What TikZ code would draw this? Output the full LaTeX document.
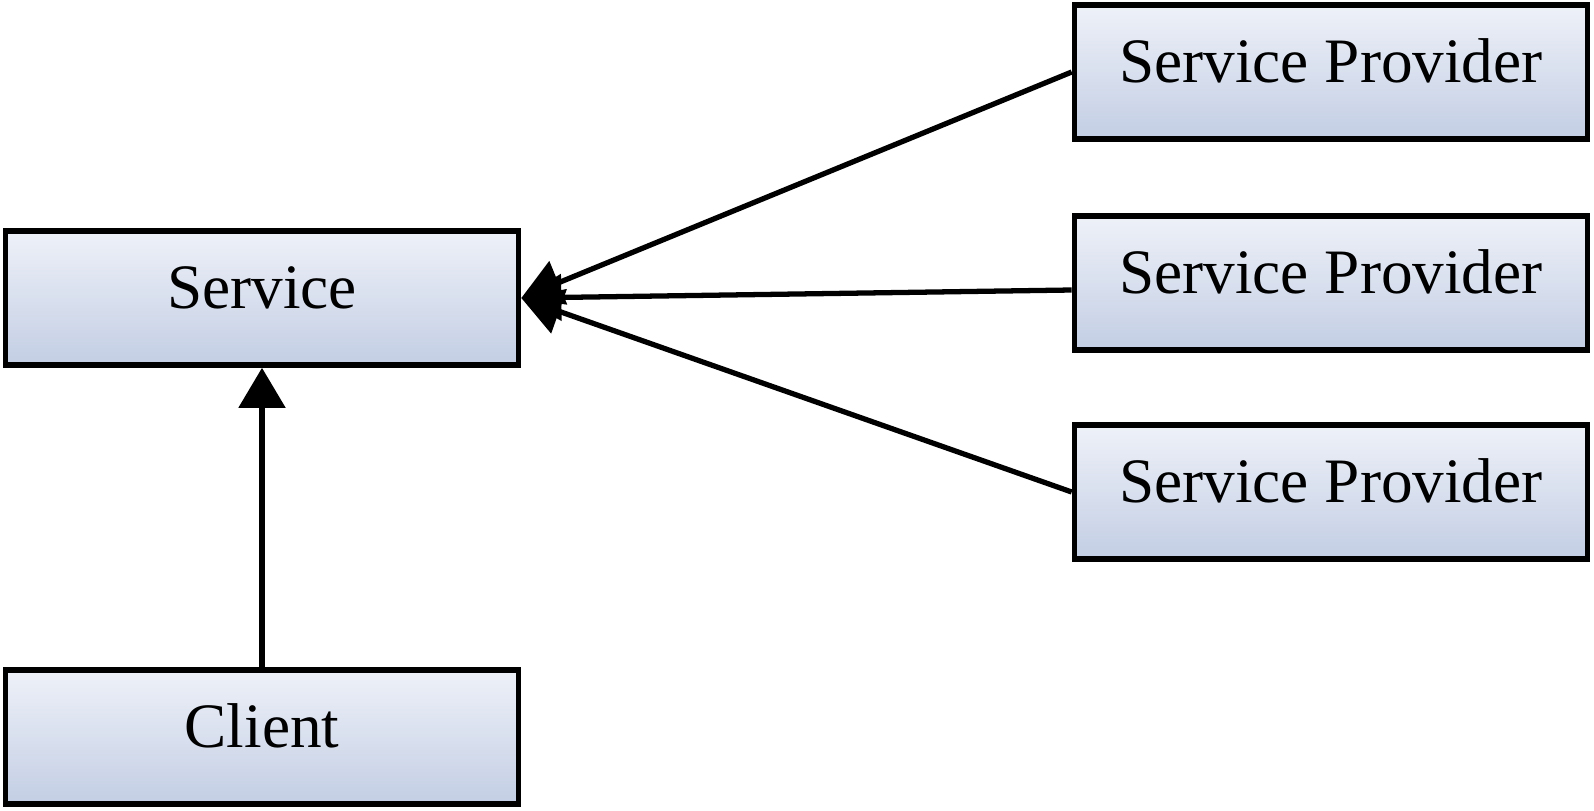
\documentclass[tikz,border=0pt]{standalone}
\usepackage{fontspec}
\setmainfont{Liberation Serif}
\usetikzlibrary{arrows.meta, positioning}

\definecolor{boxtop}{HTML}{EEF1F8}
\definecolor{boxbot}{HTML}{C3CEE4}

\begin{document}
\begin{tikzpicture}[>={Triangle[length=4mm,width=4.6mm]},
    block/.style={draw=black,line width=1.6pt,top color=boxtop,bottom color=boxbot,
        minimum width=5.13cm,minimum height=1.34cm,inner sep=0pt,
        text height=0.45cm,text depth=0.25cm,
        font=\fontsize{18}{20}\selectfont}]
    \useasboundingbox (0,0) rectangle (15.94,8.10);

    \node[block] (Svc) at (2.62,5.12) {Service};
    \node[block] (Cl) at (2.62,0.73) {Client};
    \node[block] (SP1) at (13.31,7.38) {Service Provider};
    \node[block] (SP2) at (13.31,5.27) {Service Provider};
    \node[block] (SP3) at (13.31,3.18) {Service Provider};

    \tikzset{uses/.style={->,line width=1.5pt}}
    \path (Cl) edge [uses] (Svc);
    \path (SP1.west) edge [uses] (Svc.east);
    \path ([yshift=-0.7mm]SP2.west) edge [uses] (Svc.east);
    \path (SP3.west) edge [uses] (Svc.east);
\end{tikzpicture}
\end{document}
